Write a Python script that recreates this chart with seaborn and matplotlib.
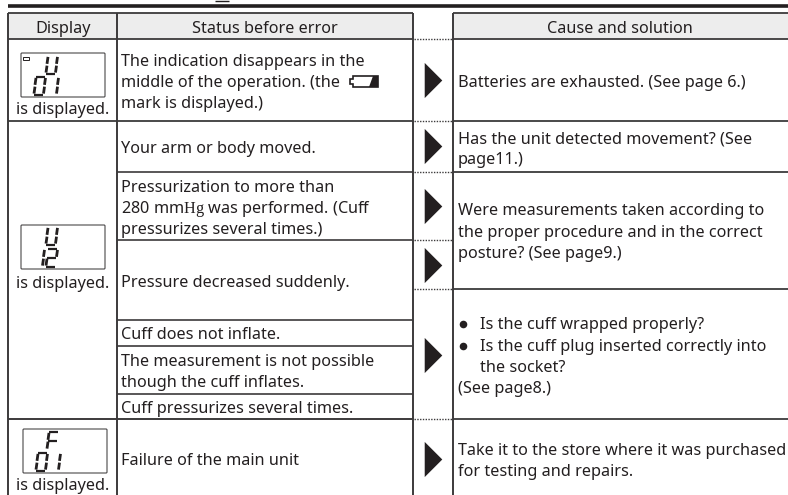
#!/usr/bin/env python
# -*- coding: utf-8 -*-
"""Error display troubleshooting table, drawn on pixel-sized axes."""

import matplotlib
matplotlib.use("Agg")
import matplotlib.pyplot as plt
import pandas as pd
import seaborn as sns
from matplotlib.patches import FancyBboxPatch, Polygon, Rectangle

W, H = 788, 495
INK = "#231f20"
RULE = "#3c3a3b"
FONT_SIZE = 11.7

sns.set_theme(style="white")
plt.rcParams["font.family"] = ["Noto Sans", "DejaVu Sans"]
plt.rcParams["mathtext.fontset"] = "custom"
plt.rcParams["mathtext.rm"] = "Liberation Serif"

# ---------------------------------------------------------------------------
# 1. Table content (y values are text baselines)
# ---------------------------------------------------------------------------
headers = ["Display", "Status before error", "Cause and solution"]
header_x = [63, 265, 620]

display_caption = "is displayed."
caption_y = [114, 288, 490]

status_lines = [
    "The indication disappears in the",
    "middle of the operation. (the",
    "mark is displayed.)",
    "Your arm or body moved.",
    "Pressurization to more than",
    r"280 mm$\mathrm{Hg}$ was performed. (Cuff",
    "pressurizes several times.)",
    "Pressure decreased suddenly.",
    "Cuff does not inflate.",
    "The measurement is not possible",
    "though the cuff inflates.",
    "Cuff pressurizes several times.",
    "Failure of the main unit",
]
status_y = [66, 87, 108, 153, 192, 213, 234, 287, 339, 366, 387, 413, 465]

cause_lines = [
    "Batteries are exhausted. (See page 6.)",
    "Has the unit detected movement? (See",
    "page11.)",
    "Were measurements taken according to",
    "the proper procedure and in the correct",
    "posture? (See page9.)",
    "(See page8.)",
    "Take it to the store where it was purchased",
    "for testing and repairs.",
]
cause_y = [87, 143, 164, 215, 237, 258, 393, 455, 476]

bullet_lines = ["Is the cuff wrapped properly?", "Is the cuff plug inserted correctly into", "the socket?"]
bullet_line_y = [329, 351, 372]
bullet_y = [324, 346]

arrow_y = [80, 146, 206, 265, 355, 459]

# table rules
left_rows = [13, 39, 121, 172, 240, 320, 346, 394, 419]
right_rows = [13, 39, 121, 172, 289, 419]
dotted_rows = [39, 121, 172, 240, 289, 419]
left_cols = [8, 117, 413]
right_col = 453

# LCD panels: box (x0, y0, x1, y1) and the segment characters inside
lcd_boxes = [(21, 53, 105, 97), (21, 225, 105, 269), (23, 429, 107, 473)]
lcd_chars = [
    ("U", 46, 56), ("0", 34, 77), ("1", 47, 77),
    ("U", 46, 227), ("1", 33, 249), ("2", 46, 249),
    ("F", 47, 432), ("0", 36, 453), ("1", 49, 453),
]

SEGMENTS = {
    "U": "bcdef",
    "F": "aefg",
    "0": "abcdef",
    "1": "bc",
    "2": "abged",
}


def draw_char(ax, char, x, y, w=9.5, h=17.5, slant=2.0):
    """Slanted seven segment character with top left corner at x, y."""
    top_l, top_r = (x + slant, y), (x + slant + w, y)
    mid_l, mid_r = (x + slant / 2, y + h / 2), (x + slant / 2 + w, y + h / 2)
    bot_l, bot_r = (x, y + h), (x + w, y + h)
    ends = {
        "a": (top_l, top_r), "b": (top_r, mid_r), "c": (mid_r, bot_r),
        "d": (bot_l, bot_r), "e": (mid_l, bot_l), "f": (top_l, mid_l),
        "g": (mid_l, mid_r),
    }
    for seg in SEGMENTS[char]:
        (x0, y0), (x1, y1) = ends[seg]
        # shorten the segments a little so the gaps show
        if y0 != y1:
            y0, y1 = y0 + 0.9, y1 - 0.9
        lw = 2.0 if y0 != y1 else 1.6
        ax.plot([x0, x1], [y0, y1], color=INK, lw=lw, solid_capstyle="butt")


# ---------------------------------------------------------------------------
# 2. Figure and rules
# ---------------------------------------------------------------------------
fig = plt.figure(figsize=(W / 100, H / 100), dpi=100, facecolor="white")
ax = fig.add_axes([0, 0, 1, 1])
ax.set_xlim(0, W)
ax.set_ylim(H, 0)
ax.axis("off")

# heavy rule below the cut-off heading, and the tail of its "g"
ax.hlines(5.5, 8, W, color=INK, lw=2.6)
ax.hlines(0.6, 215, 229, color=INK, lw=1.0)

# header fills
ax.add_patch(Rectangle((8, 13), 405, 26, fc="#ededed", ec="none", zorder=0))
ax.add_patch(Rectangle((453, 13), W - 453, 26, fc="#ededed", ec="none", zorder=0))

ax.hlines(left_rows[:3], 8, 413, color=RULE, lw=1.3)
ax.hlines(left_rows[3:8], 117, 413, color=RULE, lw=1.2)
ax.hlines(left_rows[8], 8, 413, color=RULE, lw=1.4)
ax.hlines(right_rows, 453, W, color=RULE, lw=1.3)
ax.hlines(dotted_rows, 414, 452, color=RULE, lw=1.0, linestyles=(0, (1, 1)))
ax.vlines(left_cols, 13, H, color=RULE, lw=1.4)
ax.vlines(right_col, 13, H, color=RULE, lw=1.4)

# ---------------------------------------------------------------------------
# 3. Text
# ---------------------------------------------------------------------------
text_kw = dict(color=INK, fontsize=FONT_SIZE, va="baseline")
for label, x in zip(headers, header_x):
    ax.text(x, 33, label, ha="center", **text_kw)
for y in caption_y:
    ax.text(63, y, display_caption, ha="center", **text_kw)
for label, y in zip(status_lines, status_y):
    ax.text(121, y, label, ha="left", **text_kw)
for label, y in zip(cause_lines, cause_y):
    ax.text(458, y, label, ha="left", **text_kw)
for label, y in zip(bullet_lines, bullet_line_y):
    ax.text(480, y, label, ha="left", **text_kw)

# ---------------------------------------------------------------------------
# 4. Marks
# ---------------------------------------------------------------------------
arrows = pd.DataFrame({"x": [433] * len(arrow_y), "y": arrow_y})
sns.scatterplot(
    data=arrows, x="x", y="y", ax=ax, s=640, color=INK, linewidth=0,
    marker=[(-0.5, 1), (0.5, 0), (-0.5, -1)], legend=False, clip_on=False,
)
bullets = pd.DataFrame({"x": [463] * len(bullet_y), "y": bullet_y})
sns.scatterplot(
    data=bullets, x="x", y="y", ax=ax, s=30, color=INK, linewidth=0, marker="o", legend=False
)
ax.set_xlim(0, W)
ax.set_ylim(H, 0)
ax.axis("off")

# LCD panels
for x0, y0, x1, y1 in lcd_boxes:
    ax.add_patch(
        FancyBboxPatch((x0, y0), x1 - x0, y1 - y0, boxstyle="round,pad=0,rounding_size=1",
                       fc="white", ec="#4a4849", lw=0.8)
    )
for char, x, y in lcd_chars:
    draw_char(ax, char, x, y)
ax.add_patch(Rectangle((23, 57), 6, 3, fc="white", ec=INK, lw=0.7))

# battery mark inside the status text
ax.add_patch(Polygon([(353, 76), (378, 76), (378, 87), (353, 87), (353, 84), (350, 84), (350, 79), (353, 79)],
                     closed=True, fc="white", ec=INK, lw=1.2))
ax.add_patch(Polygon([(373, 76), (378, 76), (378, 87), (369, 87)], closed=True, fc=INK, ec="none"))

fig.savefig("out.png", dpi=100, facecolor="white")
